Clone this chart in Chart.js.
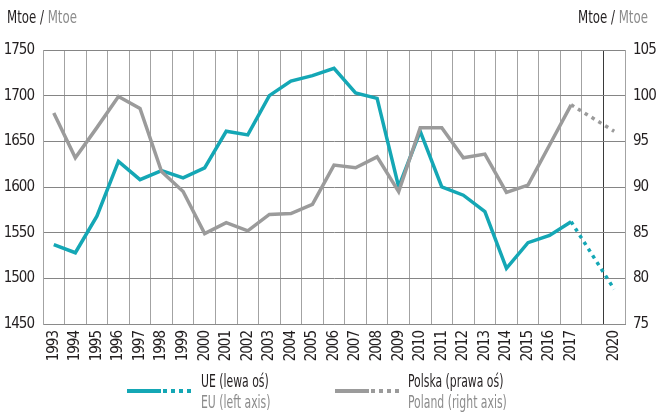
<!DOCTYPE html>
<html>
<head>
<meta charset="utf-8">
<script src="https://cdn.jsdelivr.net/npm/chart.js@4.4.1/dist/chart.umd.min.js"></script>
<style>
  body { margin: 0; background: #fff; font-family: "DejaVu Sans Condensed", "Liberation Sans", sans-serif; }
  #wrap { position: relative; width: 656px; height: 412px; }
  #wrap canvas { position: absolute; left: 0; top: 0; }
  .unit { position: absolute; top: 7px; font-size: 17px; color: #231f20; white-space: nowrap;
          transform: scaleX(0.77); transform-origin: left center; }
  .unit span { color: #8c8c8c; }
  .leg { position: absolute; font-size: 17px; line-height: 21px; white-space: nowrap; color: #231f20;
         transform: scaleX(0.71); transform-origin: left center; }
  .leg .en { color: #8c8c8c; }
  .swatch { position: absolute; height: 4px; }
</style>
</head>
<body>
<div id="wrap">
  <canvas id="chart" width="656" height="412"></canvas>
  <div class="unit" style="left:7px">Mtoe / <span>Mtoe</span></div>
  <div class="unit" style="left:578px">Mtoe / <span>Mtoe</span></div>

  <div class="swatch" style="left:127px;top:389px;width:34px;background:#14a7b5"></div>
  <div class="swatch" style="left:163px;top:389px;width:32px;background:repeating-linear-gradient(to right,#14a7b5 0 4px,transparent 4px 8px)"></div>
  <div class="leg" style="left:201px;top:371px">UE (lewa oś)<br><span class="en">EU (left axis)</span></div>

  <div class="swatch" style="left:335px;top:389px;width:34px;background:#9b9b9b"></div>
  <div class="swatch" style="left:371px;top:389px;width:32px;background:repeating-linear-gradient(to right,#9b9b9b 0 4px,transparent 4px 8px)"></div>
  <div class="leg" style="left:408px;top:371px">Polska (prawa oś)<br><span class="en">Poland (right axis)</span></div>
</div>
<script>
// categories: 1993-2017, an empty slot, then the 2020 projection
const years = ['1993','1994','1995','1996','1997','1998','1999','2000','2001','2002','2003','2004','2005',
  '2006','2007','2008','2009','2010','2011','2012','2013','2014','2015','2016','2017','','2020'];

// EU, Mtoe (left axis)
const euValues = [1537,1528,1568,1628,1608,1618,1610,1621,1661,1657,1700,1716,1722,
  1730,1703,1697,1600,1661,1600,1591,1573,1511,1539,1547,1562,null,1488];

// Poland, Mtoe (right axis)
const plValues = [98.1,93.2,96.5,99.9,98.6,91.7,89.5,84.9,86.1,85.2,87.0,87.1,88.1,
  92.4,92.1,93.3,89.5,96.5,96.5,93.2,93.6,89.4,90.2,94.6,99.0,null,96.1];

const leftTicks = [1450, 1500, 1550, 1600, 1650, 1700, 1750];
const rightTicks = [75, 80, 85, 90, 95, 100, 105];

const lastActual = years.indexOf('2017');

const actual = arr => arr.map((v, i) => (i <= lastActual ? v : null));
const forecast = arr => arr.map((v, i) => (i >= lastActual ? v : null));

const teal = '#14a7b5';
const grey = '#9b9b9b';
const font = { family: '"DejaVu Sans Condensed", "Liberation Sans", sans-serif', size: 15 };

// squeeze tick labels a little, the original uses a condensed face
const tightText = {
  id: 'tightText',
  beforeDraw: chart => { chart.ctx.letterSpacing = '-1px'; }
};

new Chart(document.getElementById('chart'), {
  type: 'line',
  data: {
    labels: years,
    datasets: [
      { data: actual(euValues), yAxisID: 'yL', borderColor: teal, borderWidth: 3.5, pointRadius: 0, order: 2 },
      { data: forecast(euValues), yAxisID: 'yL', borderColor: teal, borderWidth: 3.5, borderDash: [3.5, 4.5],
        pointRadius: 0, spanGaps: true, order: 2 },
      { data: actual(plValues), yAxisID: 'yR', borderColor: grey, borderWidth: 3.5, pointRadius: 0, order: 1 },
      { data: forecast(plValues), yAxisID: 'yR', borderColor: grey, borderWidth: 3.5, borderDash: [3.5, 4.5],
        pointRadius: 0, spanGaps: true, order: 1 }
    ]
  },
  plugins: [tightText],
  options: {
    responsive: false,
    animation: false,
    devicePixelRatio: 1,
    layout: { padding: { top: 50, bottom: 0, left: 0, right: 0 } },
    plugins: { legend: { display: false }, tooltip: { enabled: false } },
    scales: {
      x: {
        offset: true,
        grid: {
          offset: true,
          drawTicks: false,
          color: ctx => (ctx.index === years.length - 1 ? '#3a3a3a' : '#a3a3a3')
        },
        border: { color: '#8a8a8a' },
        ticks: { autoSkip: false, maxRotation: 90, minRotation: 90, padding: 7, color: '#231f20', font },
        afterFit: s => { s.height = 88; }
      },
      yL: {
        position: 'left',
        min: 1450,
        max: 1750,
        afterBuildTicks: s => { s.ticks = leftTicks.map(v => ({ value: v })); },
        grid: { drawTicks: false, color: '#858585' },
        border: { color: '#a3a3a3' },
        ticks: { padding: 9, color: '#231f20', font, callback: v => String(v) },
        afterFit: s => { s.width = 43; }
      },
      yR: {
        position: 'right',
        min: 75,
        max: 105,
        afterBuildTicks: s => { s.ticks = rightTicks.map(v => ({ value: v })); },
        grid: { drawOnChartArea: false, drawTicks: false },
        border: { display: false },
        ticks: { padding: 8, color: '#231f20', font, callback: v => String(v) },
        afterFit: s => { s.width = 31; }
      }
    }
  }
});
</script>
</body>
</html>
